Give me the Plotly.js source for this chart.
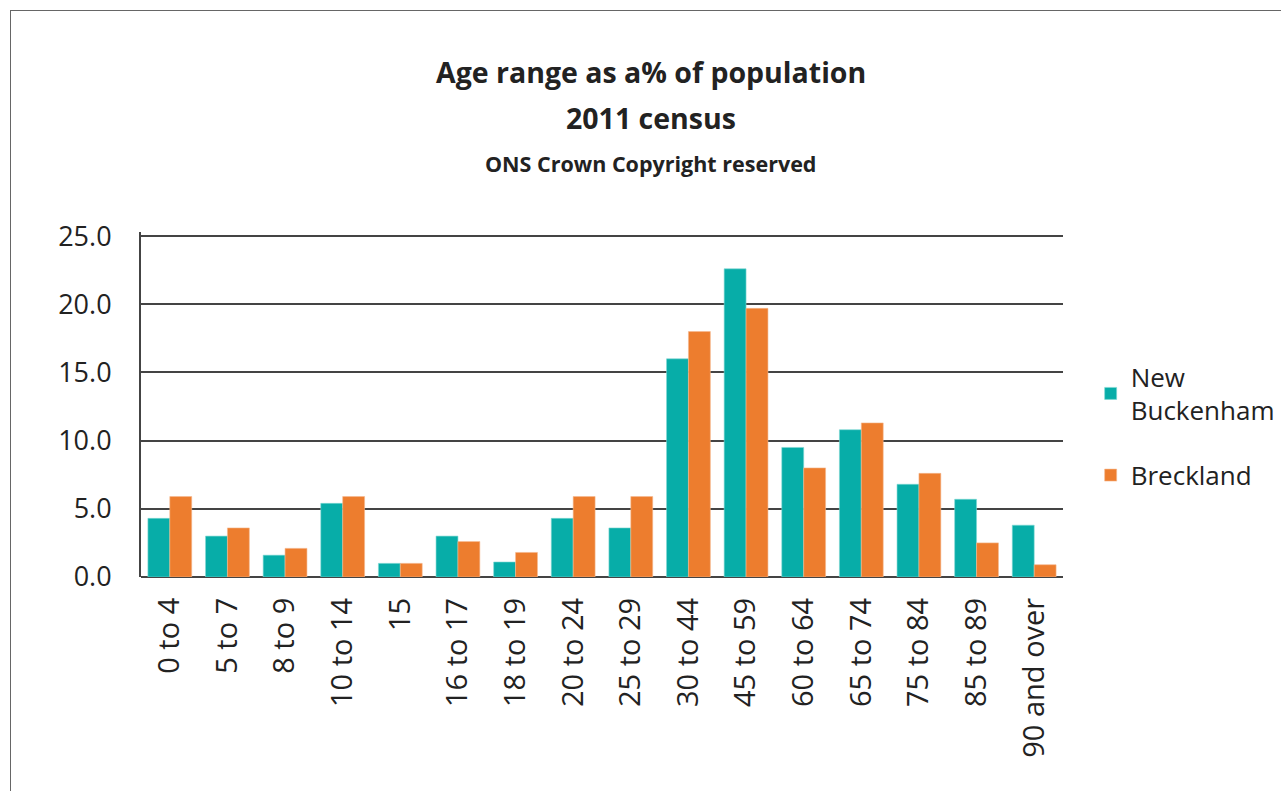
<!DOCTYPE html>
<html>
<head>
<meta charset="utf-8">
<script src="https://cdn.plot.ly/plotly-3.0.1.min.js"></script>
<style>
  html, body { margin: 0; padding: 0; background: #fff; }
  #frame { position: absolute; left: 10px; top: 10px; width: 1300px; height: 800px; border-left: 1.5px solid #666; border-top: 1.5px solid #666; }
  #chart { position: absolute; left: 0; top: 0; width: 1281px; height: 791px; }
</style>
</head>
<body>
<div id="frame"></div>
<div id="chart"></div>
<script>
const categories = ["0 to 4", "5 to 7", "8 to 9", "10 to 14", "15", "16 to 17", "18 to 19", "20 to 24", "25 to 29", "30 to 44", "45 to 59", "60 to 64", "65 to 74", "75 to 84", "85 to 89", "90 and over"];
const newBuckenham = [4.3, 3.0, 1.6, 5.4, 1.0, 3.0, 1.1, 4.3, 3.6, 16.0, 22.6, 9.5, 10.8, 6.8, 5.7, 3.8];
const breckland = [5.9, 3.6, 2.1, 5.9, 1.0, 2.6, 1.8, 5.9, 5.9, 18.0, 19.7, 8.0, 11.3, 7.6, 2.5, 0.9];
const yTicks = [0, 5, 10, 15, 20, 25];

const fontFam = "'Open Sans', 'Noto Sans', sans-serif";
const traces = [
  { type: "bar", name: "New<br>Buckenham", legendgroup: "nb", x: categories, y: newBuckenham, marker: { color: "#07ADA8", line: { color: "#7fd8d4", width: 0.6 } } },
  { type: "bar", name: "Breckland", legendgroup: "br", x: categories, y: breckland, marker: { color: "#ED7D2E", line: { color: "#f5b88e", width: 0.6 } } }
];

const layout = {
  width: 1281, height: 791,
  paper_bgcolor: "rgba(0,0,0,0)", plot_bgcolor: "rgba(0,0,0,0)",
  margin: { l: 141, r: 218, t: 232, b: 214, autoexpand: false },
  font: { family: fontFam, color: "#222" },
  barmode: "group", bargap: 0.24, bargroupgap: 0,
  showlegend: true,
  legend: { x: 1.03, xanchor: "left", y: 0.649, yanchor: "top", font: { size: 26, color: "#222" }, tracegroupgap: 28, itemwidth: 30, bgcolor: "rgba(0,0,0,0)" },
  xaxis: {
    type: "category", tickangle: -90, tickfont: { size: 29, color: "#222" },
    showgrid: false, showline: false, ticks: "", ticklabelstandoff: 14, zeroline: false
  },
  yaxis: {
    range: [0, 25.3], tickvals: yTicks, tickformat: ".1f", tickfont: { size: 27, color: "#222" },
    showgrid: true, gridcolor: "#444", gridwidth: 2, showline: true, linecolor: "#444", linewidth: 2,
    zeroline: true, zerolinecolor: "#444", zerolinewidth: 2, ticks: "", ticklabelstandoff: 22, fixedrange: true
  },
  annotations: [
    { xref: "paper", yref: "paper", x: 0.553, y: 1.0, xanchor: "center", yanchor: "middle", yshift: 160, showarrow: false, text: "<b>Age range as a% of population</b>", font: { size: 28.5, color: "#222" } },
    { xref: "paper", yref: "paper", x: 0.553, y: 1.0, xanchor: "center", yanchor: "middle", yshift: 114, showarrow: false, text: "<b>2011 census</b>", font: { size: 28.5, color: "#222" } },
    { xref: "paper", yref: "paper", x: 0.553, y: 1.0, xanchor: "center", yanchor: "middle", yshift: 69, showarrow: false, text: "<b>ONS Crown Copyright reserved</b>", font: { size: 21.5, color: "#222" } }
  ]
};

Plotly.newPlot("chart", traces, layout, { displayModeBar: false, staticPlot: true });
</script>
</body>
</html>
